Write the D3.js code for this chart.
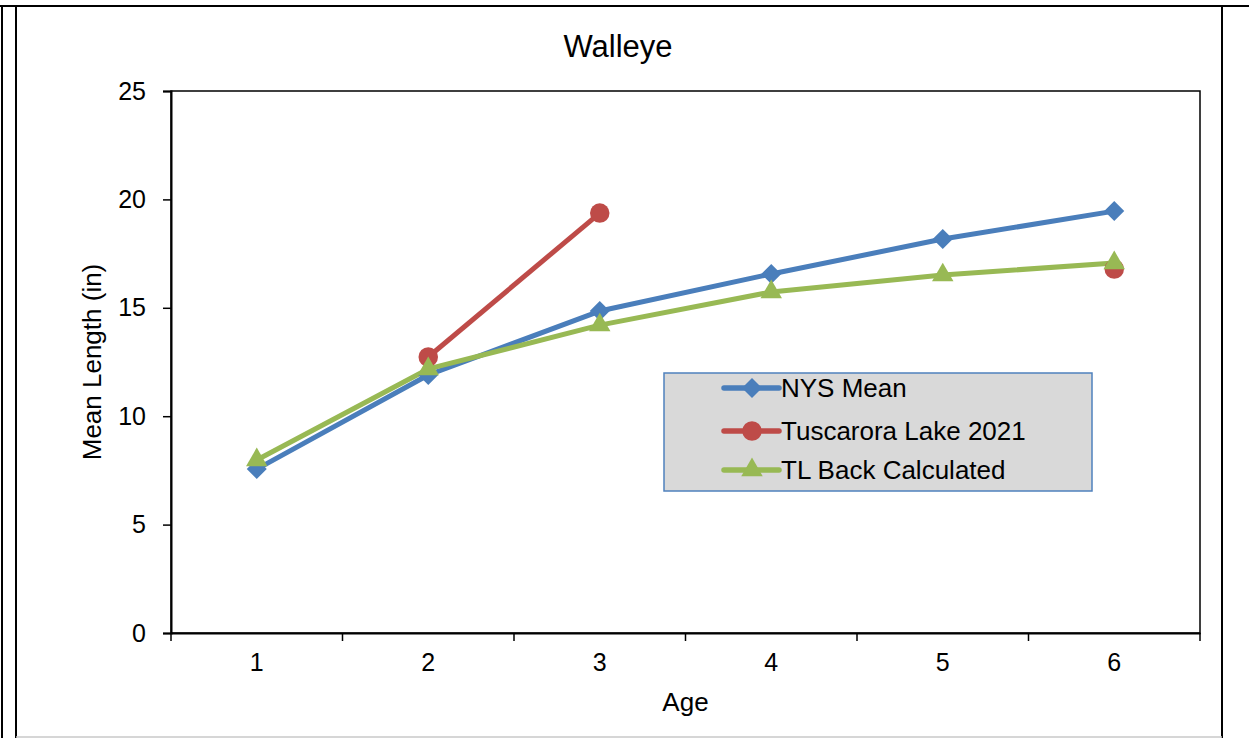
<!DOCTYPE html>
<html>
<head>
<meta charset="utf-8">
<script src="https://cdn.jsdelivr.net/npm/d3@7"></script>
<style>
  body { margin: 0; background: #fff; }
  svg { display: block; font-family: "Liberation Sans", Arial, sans-serif; }
</style>
</head>
<body>
<div id="wrapper"></div>
<script>
const ages = [1, 2, 3, 4, 5, 6]
const nysMean = [7.56, 11.9, 14.85, 16.56, 18.17, 19.46]
const tuscarora2021 = [null, 12.73, 19.37, null, null, 16.79]
const tlBackCalc = [7.98, 12.18, 14.2, 15.73, 16.51, 17.07]
const yTicks = [0, 5, 10, 15, 20, 25]

const series = [
  { name: "NYS Mean", values: nysMean, color: "#4a7ebb", symbol: d3.symbolSquare, size: 200, rotate: 45 },
  { name: "Tuscarora Lake 2021", values: tuscarora2021, color: "#be4b48", symbol: d3.symbolCircle, size: 300, rotate: 0 },
  { name: "TL Back Calculated", values: tlBackCalc, color: "#98b954", symbol: d3.symbolTriangle, size: 200, rotate: 0 },
]

const dimensions = {
  width: 1249,
  height: 738,
  margin: { top: 91, right: 49, bottom: 105, left: 171 },
}
dimensions.boundedWidth = dimensions.width - dimensions.margin.left - dimensions.margin.right
dimensions.boundedHeight = dimensions.height - dimensions.margin.top - dimensions.margin.bottom

const wrapper = d3.select("#wrapper")
  .append("svg")
  .attr("width", dimensions.width)
  .attr("height", dimensions.height)

// outer frame
const frame = wrapper.append("g").attr("stroke", "#000").attr("stroke-width", 2)
frame.append("line").attr("x1", 0).attr("x2", 1249).attr("y1", 6).attr("y2", 6)
frame.append("line").attr("x1", 2).attr("x2", 2).attr("y1", 6).attr("y2", 738)
frame.append("line").attr("x1", 16).attr("x2", 16).attr("y1", 6).attr("y2", 738)
frame.append("line").attr("x1", 1222).attr("x2", 1222).attr("y1", 6).attr("y2", 738)
wrapper.append("line").attr("x1", 16).attr("x2", 1222).attr("y1", 737).attr("y2", 737)
  .attr("stroke", "#c8c8c8").attr("stroke-width", 1.5)

const bounds = wrapper.append("g")
  .attr("transform", `translate(${dimensions.margin.left},${dimensions.margin.top})`)

const xScale = d3.scaleBand()
  .domain(ages)
  .range([0, dimensions.boundedWidth])

const yScale = d3.scaleLinear()
  .domain([0, 25])
  .range([dimensions.boundedHeight, 0])

// plot border
bounds.append("rect")
  .attr("width", dimensions.boundedWidth)
  .attr("height", dimensions.boundedHeight)
  .attr("fill", "none")
  .attr("stroke", "#000")
  .attr("stroke-width", 1.5)

// y axis
const yAxis = bounds.append("g")
  .call(d3.axisLeft(yScale).tickValues(yTicks).tickSize(8).tickPadding(17))
yAxis.select(".domain").attr("stroke-width", 2)
yAxis.selectAll(".tick line").attr("stroke-width", 1.5)
yAxis.selectAll(".tick text").style("font-size", "25px").attr("fill", "#000")

// x axis: ticks at category boundaries
const xAxis = bounds.append("g")
  .attr("transform", `translate(0,${dimensions.boundedHeight})`)
  .call(d3.axisBottom(xScale).tickSize(0).tickPadding(20))
xAxis.select(".domain").attr("stroke-width", 2)
xAxis.selectAll(".tick text").style("font-size", "25px").attr("fill", "#000")
xAxis.selectAll(".boundary")
  .data(d3.range(ages.length + 1))
  .join("line")
  .attr("x1", i => i * xScale.bandwidth())
  .attr("x2", i => i * xScale.bandwidth())
  .attr("y1", 0)
  .attr("y2", 8)
  .attr("stroke", "#000")
  .attr("stroke-width", 1.5)

// axis titles
bounds.append("text")
  .attr("x", dimensions.boundedWidth / 2)
  .attr("y", dimensions.boundedHeight + 78)
  .attr("text-anchor", "middle")
  .style("font-size", "26px")
  .text("Age")

bounds.append("text")
  .attr("transform", `translate(-70,${dimensions.boundedHeight / 2}) rotate(-90)`)
  .attr("text-anchor", "middle")
  .style("font-size", "26px")
  .text("Mean Length (in)")

wrapper.append("text")
  .attr("x", 618)
  .attr("y", 57)
  .attr("text-anchor", "middle")
  .style("font-size", "31px")
  .text("Walleye")

// lines and markers
const xPos = i => xScale(ages[i]) + xScale.bandwidth() / 2
const line = d3.line()
  .defined(d => d != null)
  .x((d, i) => xPos(i))
  .y(d => yScale(d))

series.forEach(s => {
  bounds.append("path")
    .attr("d", line(s.values))
    .attr("fill", "none")
    .attr("stroke", s.color)
    .attr("stroke-width", 5)
    .attr("stroke-linejoin", "round")
})
series.forEach(s => {
  bounds.selectAll(null)
    .data(s.values.map((v, i) => ({ v, i })).filter(d => d.v != null))
    .join("path")
    .attr("d", d3.symbol(s.symbol, s.size))
    .attr("transform", d => `translate(${xPos(d.i)},${yScale(d.v)}) rotate(${s.rotate})`)
    .attr("fill", s.color)
})

// legend
const legend = wrapper.append("g").attr("transform", "translate(664,373)")
legend.append("rect")
  .attr("width", 428)
  .attr("height", 118)
  .attr("fill", "#d9d9d9")
  .attr("stroke", "#4f81bd")
  .attr("stroke-width", 1.5)

const legendY = [15, 58, 97]
series.forEach((s, i) => {
  const g = legend.append("g").attr("transform", `translate(0,${legendY[i]})`)
  g.append("line")
    .attr("x1", 60).attr("x2", 115)
    .attr("stroke", s.color).attr("stroke-width", 5.5).attr("stroke-linecap", "round")
  g.append("path")
    .attr("d", d3.symbol(s.symbol, s.size))
    .attr("transform", `translate(88,0) rotate(${s.rotate})`)
    .attr("fill", s.color)
  g.append("text")
    .attr("x", 117)
    .attr("dy", "0.36em")
    .style("font-size", "26px")
    .text(s.name)
})
</script>
</body>
</html>
